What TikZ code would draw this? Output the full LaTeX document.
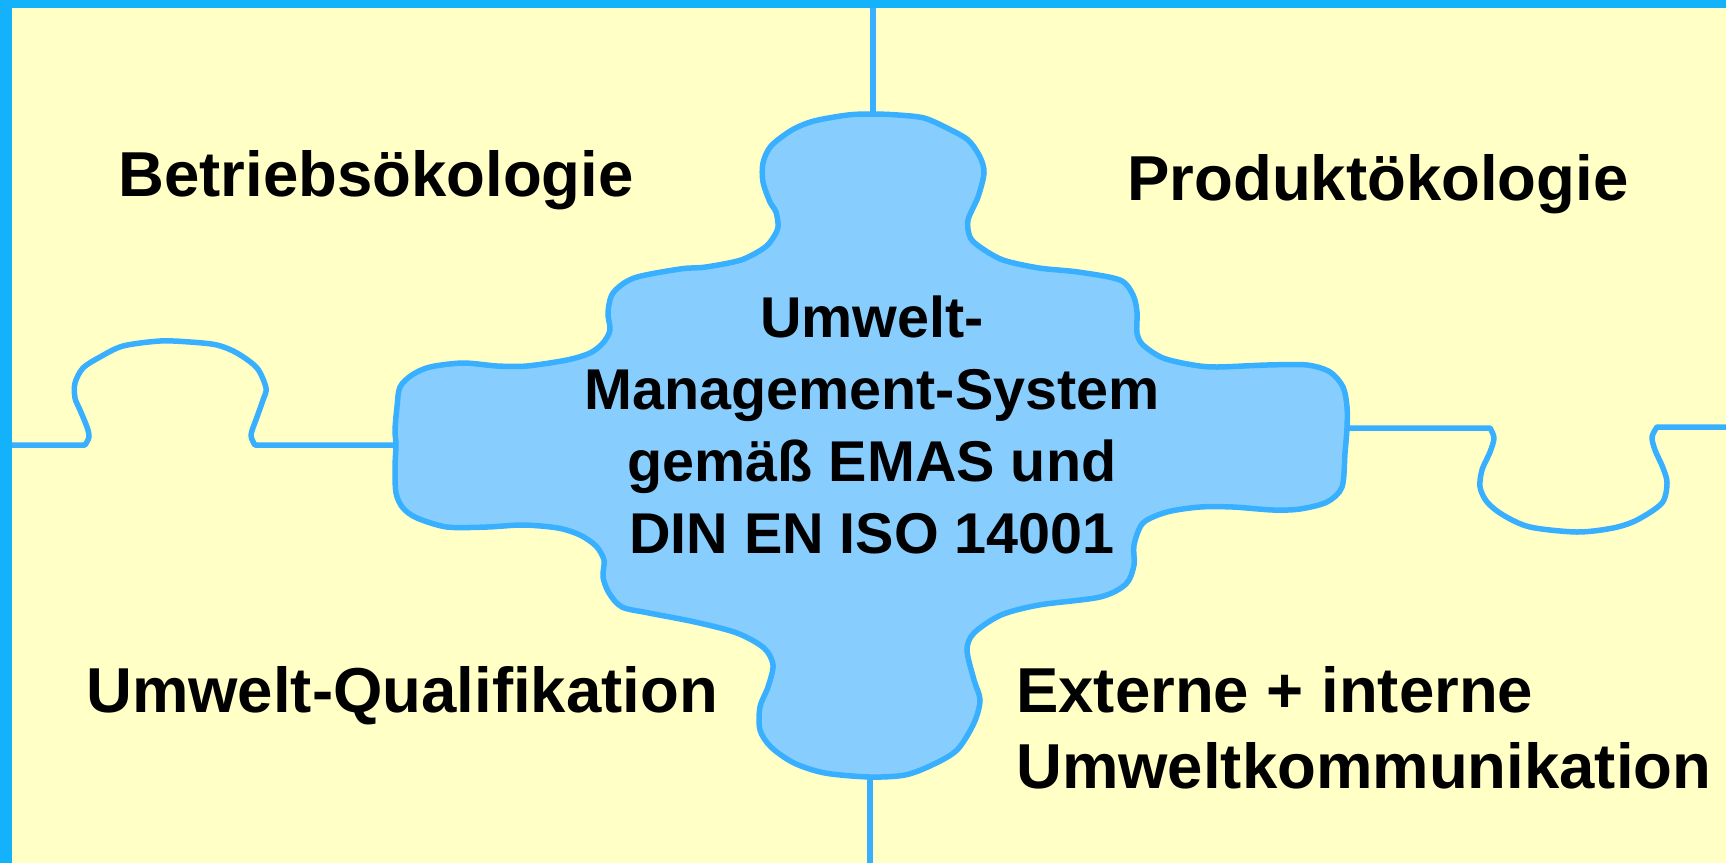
\documentclass[tikz,border=0pt]{standalone}
\usepackage{fontspec}
\setmainfont{Liberation Sans}
\usepackage{tikz}
\usetikzlibrary{positioning}
\definecolor{paper}{HTML}{FFFFC6}
\definecolor{seamblue}{HTML}{38B0FF}
\definecolor{frameblue}{HTML}{14B2FA}
\definecolor{piece}{HTML}{87CEFF}

\begin{document}
\begin{tikzpicture}[x=1pt, y=-1pt,
	seam/.style={draw=seamblue, line width=5.5pt, line join=round},
	cornertext/.style={font=\bfseries\fontsize{63.5}{76}\selectfont, inner sep=0},
	centretext/.style={font=\bfseries\fontsize{57.5}{71.7}\selectfont, inner sep=0, align=center}]
\fill[paper] (0,0) rectangle (1726,863);
\useasboundingbox (0,0) rectangle (1726,863);
% seams between the four outer pieces
\draw[seam] (873,8) -- (873,114);
\draw[seam] (870,777) -- (870,863);
\draw[seam] (12,445) -- plot[smooth, tension=0.5] coordinates {(85,445) (89,437) (87,427) (80,410) (75,398) (75,383) (83,368) (100,357) (123,346) (160,341) (190,342) (217,345) (237,353) (257,368) (266,388) (263,400) (257,417) (251,435) (255,445)} -- (396,445);
\draw[seam] (1347,428) -- plot[smooth, tension=0.5] coordinates {(1490,428) (1494,438) (1490,452) (1482,470) (1480,487) (1487,502) (1503,515) (1530,527) (1577,532) (1613,528) (1637,520) (1662,503) (1667,483) (1663,468) (1655,450) (1652,437) (1657,427)} -- (1726,427);
% centre piece
\filldraw[seam, fill=piece] plot[smooth cycle, tension=0.5] coordinates {
	(848,115) (873,114) (898,115) (924,118) (947,128) (968,140) (980,157) (984,173) (978,197) (968,220) (970,237) (980,247) (1003,260) (1039,268) (1078,272) (1120,280) (1133,295) (1137,312) (1137,333) (1143,345) (1163,358) (1193,365) (1217,367) (1267,365) (1307,365) (1330,372) (1343,387) (1347,407) (1347,428) (1345,453) (1342,487) (1327,502) (1300,509) (1273,510) (1233,507) (1200,507) (1167,512) (1143,523) (1134,545) (1134,565) (1126,584) (1100,597) (1039,605) (1001,615) (974,633) (967,650) (974,680) (980,700) (974,723) (957,750) (932,765) (905,775) (870,777) (825,773) (794,763) (771,747) (760,730) (760,707) (768,687) (773,665) (764,648) (737,633) (695,622) (649,613) (622,607) (609,593) (603,577) (604,560) (596,546) (580,535) (558,528) (523,525) (487,527) (447,527) (417,518) (403,508) (396,493) (395,467) (396,445) (395,430) (397,407) (400,387) (412,375) (430,367) (463,363) (497,366) (527,366) (567,360) (590,353) (603,343) (610,330) (608,313) (613,293) (634,278) (680,269) (706,267) (741,260) (764,248) (773,238) (778,227) (776,212) (770,202) (763,182) (763,163) (771,146) (792,130) (814,121)};
% frame
\fill[frameblue] (0,0) rectangle (1726,8);
\fill[frameblue] (0,0) rectangle (12,863);
% texts
\node[centretext, anchor=base] (ems) at (872,553) {Umwelt-\\Management-System\\gemäß EMAS und\\DIN EN ISO 14001};
\node[cornertext, anchor=base] (betrieb) at (376,196) {Betriebsökologie};
\node[cornertext, anchor=base] (produkt) at (1378,200) {Produktökologie};
\node[cornertext, anchor=base] (quali) at (402,712) {Umwelt-Qualifikation};
\node[cornertext, anchor=base west, align=left] (komm) at (1016,788) {Externe + interne\\Umweltkommunikation};
\end{tikzpicture}
\end{document}
